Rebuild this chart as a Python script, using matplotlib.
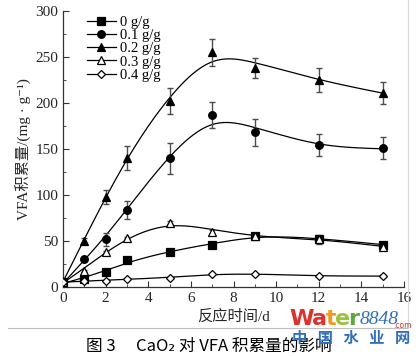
"""CaO2 对 VFA 积累量的影响 —— 图 3 重绘。"""
import numpy as np
import matplotlib
matplotlib.use("Agg")
import matplotlib.pyplot as plt
from matplotlib.ticker import MultipleLocator

plt.rcParams["font.family"] = ["Liberation Serif", "Noto Sans CJK SC", "DejaVu Sans"]

# 数据
t = [0, 1, 2, 3, 5, 7, 9, 12, 15]
labels = ["0 g/g", "0.1 g/g", "0.2 g/g", "0.3 g/g", "0.4 g/g"]
vfa_0 = [5, 9, 16, 29, 38, 46, 55, 52, 46]
vfa_01 = [5, 30, 52, 84, 140, 187, 168, 154, 151]
vfa_02 = [5, 50, 98, 140, 202, 255, 238, 225, 211]
vfa_03 = [5, 17, 38, 53, 70, 60, 55, 52, 44]
vfa_04 = [5, 7, 7, 8.5, 10, 14, 14, 12, 12]
err_0 = [0, 1, 1, 1, 1, 1, 2, 4, 3]
err_01 = [0, 2, 7, 10, 17, 14, 15, 12, 12]
err_02 = [0, 3, 8, 13, 14, 15, 11, 13, 12]
err_03 = [0, 1, 1, 1, 2, 2, 2, 5, 3]
err_04 = [0, 1, 1, 1, 1, 1, 1, 1, 1]

series = [vfa_0, vfa_01, vfa_02, vfa_03, vfa_04]
erreurs = [err_0, err_01, err_02, err_03, err_04]
marqueurs = [("s", "k"), ("o", "k"), ("^", "k"), ("^", "w"), ("D", "w")]


def lisser(x, y, p=1.0, pas=0.05):
    """Spline de lissage approchée (pénalité sur la dérivée seconde)."""
    grille = np.arange(0, max(x) + pas / 2, pas)
    n = len(grille)
    w = np.zeros(n)
    cible = np.zeros(n)
    for xi, yi in zip(x, y):
        k = int(round(xi / pas))
        w[k] = 1.0
        cible[k] = yi
    d = np.diff(np.eye(n), 2, axis=0)
    lam = p / pas ** 3
    z = np.linalg.solve(np.diag(w) + lam * d.T @ d, w * cible)
    return grille, z


fig = plt.figure(figsize=(4.2, 3.57), dpi=100)
ax = fig.add_axes([0.15, 0.196, 0.812, 0.773])

for y, e, (m, fc), lab in zip(series, erreurs, marqueurs, labels):
    gx, gy = lisser(t, y, p=1.0)
    ax.plot(gx, gy, color="k", lw=0.9, zorder=2)
    ax.errorbar(t, y, yerr=e, fmt="none", ecolor="0.3", elinewidth=1.0,
                capsize=2.5, capthick=1.0, zorder=3)
    ms = 5.5 if m != "D" else 4.5
    ax.plot(t, y, ls="none", marker=m, ms=ms, mfc=fc, mec="k", mew=0.9, zorder=4)
    ax.plot([], [], color="k", lw=0.9, marker=m, ms=ms, mfc=fc, mec="k",
            mew=0.9, label=lab)

ax.set_xlim(0, 16)
ax.set_ylim(0, 300)
ax.xaxis.set_major_locator(MultipleLocator(2))
ax.xaxis.set_minor_locator(MultipleLocator(1))
ax.yaxis.set_major_locator(MultipleLocator(50))
ax.yaxis.set_minor_locator(MultipleLocator(25))
ax.tick_params(which="both", direction="in", labelsize=11, color="0.2",
               labelcolor="0.15")
ax.tick_params(which="major", length=4)
ax.tick_params(which="minor", length=2)
for c in ("top", "right"):
    ax.spines[c].set_visible(False)
for c in ("left", "bottom"):
    ax.spines[c].set_linewidth(0.9)
    ax.spines[c].set_color("0.2")

ax.set_xlabel("反应时间/d", fontsize=11, labelpad=3, color="0.15")
ax.set_ylabel("VFA积累量/(mg · g⁻¹)", fontsize=11, labelpad=2, color="0.15")

ax.legend(loc="upper left", bbox_to_anchor=(0.04, 1.02), frameon=False,
          fontsize=10.5, handlelength=2.0, handletextpad=0.3, labelspacing=0.0,
          borderpad=0.2)

# 底部分隔线、图题和水印
fig.add_artist(plt.Line2D([0.02, 0.972], [0.081, 0.081], transform=fig.transFigure,
                          color="0.75", lw=0.8))
fig.add_artist(plt.Line2D([0.972, 0.972], [0.081, 1.0], transform=fig.transFigure,
                          color="0.85", lw=0.8))
fig.text(0.496, 0.031, "图 3　 CaO₂ 对 VFA 积累量的影响", ha="center", va="center",
         fontsize=12, family=["Noto Sans CJK SC", "DejaVu Sans"])

x0, y0 = 0.69, 0.106
for txt, col in [("W", "#e0302b"), ("a", "#e0302b"), ("t", "#f39a1e"),
                 ("e", "#9cc43a"), ("r", "#5aa83c")]:
    tx = fig.text(x0, y0, txt, color=col, fontsize=16, fontweight="bold",
                  family="DejaVu Sans", va="center")
    fig.canvas.draw()
    bb = tx.get_window_extent()
    x0 += bb.width / fig.bbox.width * 0.9
fig.text(x0 + 0.003, y0, "8848", color="#2f6fc0", fontsize=14, style="italic",
         family="Liberation Serif", va="center")
fig.text(0.937, y0 - 0.018, ".com", color="#e0302b", fontsize=5.5, va="center",
         family="DejaVu Sans")
fig.text(0.835, 0.052, "中   国   水   业   网", color="#2f6fc0", fontsize=11,
         fontweight="bold", ha="center", va="center", family="Noto Sans CJK SC")

fig.savefig("out.png", dpi=100)
